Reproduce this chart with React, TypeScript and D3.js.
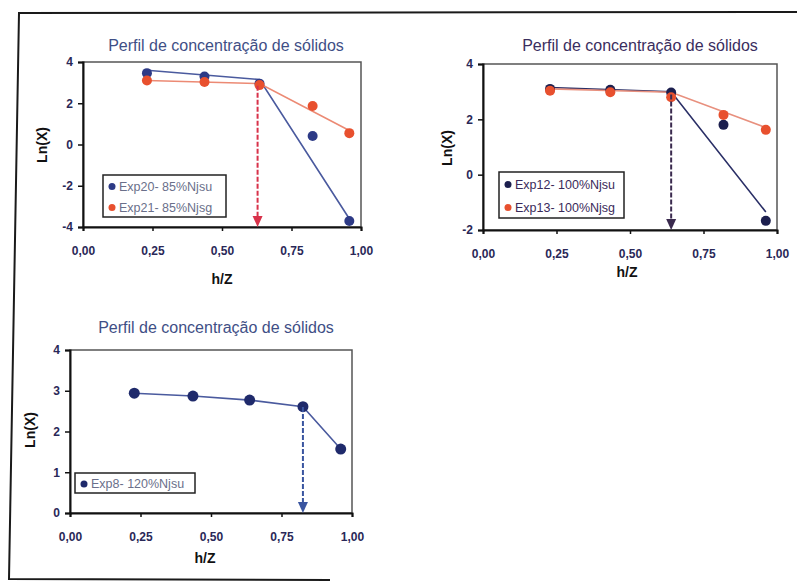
import React, { useEffect, useRef } from 'react';
import * as d3 from 'd3';

// values
const title = 'Perfil de concentração de sólidos';
const xTicks = [0, 0.25, 0.5, 0.75, 1];

// chart 1 - 85% Njs
const hz1 = [0.23, 0.437, 0.635, 0.826, 0.958];
const exp20 = [3.46, 3.3, 2.95, 0.41, -3.71];
const exp21 = [3.1, 3.03, 2.88, 1.87, 0.55];
const exp20Trend = [[0.23, 3.6], [0.635, 3.15], [0.958, -3.6]];
const exp21Trend = [[0.23, 3.1], [0.635, 2.95], [0.958, 0.68]];
const yTicks1 = [-4, -2, 0, 2, 4];

// chart 2 - 100% Njs
const hz2 = [0.228, 0.433, 0.64, 0.818, 0.962];
const exp12 = [3.1, 3.07, 2.97, 1.8, -1.67];
const exp13 = [3.03, 2.98, 2.8, 2.16, 1.62];
const exp12Trend = [[0.228, 3.15], [0.64, 3.0], [0.962, -1.35]];
const exp13Trend = [[0.228, 3.1], [0.64, 2.98], [0.962, 1.7]];
const yTicks2 = [-2, 0, 2, 4];

// chart 3 - 120% Njs
const hz3 = [0.228, 0.436, 0.637, 0.826, 0.96];
const exp8 = [2.94, 2.87, 2.77, 2.61, 1.57];
const yTicks3 = [0, 1, 2, 3, 4];

const fmt = (d) => d3.format('.2f')(d).replace('.', ',');
const fmtY = (d) => String(d); // plain hyphen minus like the original

const FONT = 'Liberation Sans, Arial, sans-serif';

const charts = [
  {
    box: { left: 83, right: 361, top: 62, bottom: 227 },
    yDomain: [-4, 4], yTicks: yTicks1,
    titleX: 226, titleY: 51,
    yLabel: { x: 47, y: 145 }, xLabel: { x: 222, y: 284 },
    series: [
      { name: 'Exp20- 85%Njsu', x: hz1, y: exp20, trend: exp20Trend, color: '#2d3a86', line: '#4a5a9e' },
      { name: 'Exp21- 85%Njsg', x: hz1, y: exp21, trend: exp21Trend, color: '#e8502e', line: '#ec8a74' },
    ],
    arrow: { x: 0.628, from: 2.85, to: -4, color: '#d8324a' },
    legend: { x: 103, y: 175, w: 123, h: 42 },
  },
  {
    box: { left: 483, right: 777, top: 64, bottom: 230 },
    yDomain: [-2, 4], yTicks: yTicks2,
    titleX: 640, titleY: 51,
    yLabel: { x: 452, y: 148 }, xLabel: { x: 627, y: 277 },
    series: [
      { name: 'Exp12- 100%Njsu', x: hz2, y: exp12, trend: exp12Trend, color: '#1c1f4e', line: '#2a2f66' },
      { name: 'Exp13- 100%Njsg', x: hz2, y: exp13, trend: exp13Trend, color: '#e8502e', line: '#e8907e' },
    ],
    arrow: { x: 0.64, from: 2.9, to: -2, color: '#3a2a4e' },
    legend: { x: 499, y: 172, w: 125, h: 46 },
  },
  {
    box: { left: 70, right: 352, top: 350, bottom: 513 },
    yDomain: [0, 4], yTicks: yTicks3,
    titleX: 216, titleY: 333,
    yLabel: { x: 35, y: 430 }, xLabel: { x: 205, y: 563 },
    series: [
      { name: 'Exp8- 120%Njsu', x: hz3, y: exp8, trend: hz3.map((h, i) => [h, exp8[i]]), color: '#1f2a6b', line: '#4a5a9e' },
    ],
    arrow: { x: 0.826, from: 2.6, to: 0, color: '#3a55a0' },
    legend: { x: 75, y: 473, w: 120, h: 20 },
  },
];

const App = () => {
  const svgRef = useRef();

  useEffect(() => {
    const svg = d3.select(svgRef.current);
    svg.selectAll('*').remove();
    svg.attr('width', 797).attr('height', 583);

    svg.append('rect').attr('width', 797).attr('height', 583).attr('fill', '#ffffff');

    // outer frame of the scanned page
    svg.append('path')
      .attr('d', 'M797,12 L19,13 L9,579 L330,580')
      .attr('fill', 'none')
      .attr('stroke', '#1a1a1a')
      .attr('stroke-width', 2);

    charts.forEach((c, ci) => {
      const g = svg.append('g');
      const x = d3.scaleLinear().domain([0, 1]).range([c.box.left, c.box.right]);
      const y = d3.scaleLinear().domain(c.yDomain).range([c.box.bottom, c.box.top]);

      // plot frame (grey top/right)
      g.append('rect')
        .attr('x', c.box.left).attr('y', c.box.top)
        .attr('width', c.box.right - c.box.left).attr('height', c.box.bottom - c.box.top)
        .attr('fill', 'none').attr('stroke', '#555').attr('stroke-width', 1.5);

      // axes
      const xAxis = g.append('g')
        .attr('transform', `translate(0,${c.box.bottom})`)
        .call(d3.axisBottom(x).tickValues(xTicks).tickSize(4).tickPadding(15).tickFormat(fmt));
      const yAxis = g.append('g')
        .attr('transform', `translate(${c.box.left},0)`)
        .call(d3.axisLeft(y).tickValues(c.yTicks).tickSize(5).tickPadding(5).tickFormat(fmtY));
      [xAxis, yAxis].forEach(a => {
        a.select('.domain').attr('stroke', '#111').attr('stroke-width', 2);
        a.selectAll('line').attr('stroke', '#111').attr('stroke-width', 1.5);
        a.selectAll('text')
          .style('font-family', FONT)
          .style('font-weight', 'bold')
          .style('font-size', '12px')
          .attr('fill', '#2a2858');
      });

      // title
      g.append('text')
        .attr('x', c.titleX).attr('y', c.titleY)
        .attr('text-anchor', 'middle')
        .style('font-family', FONT)
        .style('font-size', '16px')
        .attr('fill', ci === 1 ? '#3a2e5e' : '#3f4f86')
        .text(title);

      // axis titles
      g.append('text')
        .attr('transform', `translate(${c.yLabel.x},${c.yLabel.y}) rotate(-90)`)
        .attr('text-anchor', 'middle')
        .style('font-family', FONT)
        .style('font-weight', 'bold')
        .style('font-size', '14px')
        .attr('fill', '#111')
        .text('Ln(X)');
      g.append('text')
        .attr('x', c.xLabel.x).attr('y', c.xLabel.y)
        .attr('text-anchor', 'middle')
        .style('font-family', FONT)
        .style('font-weight', 'bold')
        .style('font-size', '14px')
        .attr('fill', '#111')
        .text('h/Z');

      // trend lines
      const line = d3.line().x(d => x(d[0])).y(d => y(d[1]));
      c.series.forEach(s => {
        g.append('path')
          .attr('d', line(s.trend))
          .attr('fill', 'none')
          .attr('stroke', s.line)
          .attr('stroke-width', 1.6);
      });

      // points
      c.series.forEach(s => {
        g.selectAll(null)
          .data(s.x.map((h, i) => [h, s.y[i]]))
          .enter().append('circle')
          .attr('cx', d => x(d[0]))
          .attr('cy', d => y(d[1]))
          .attr('r', ci === 2 ? 5.5 : 5)
          .attr('fill', s.color);
      });

      // dashed arrow
      const ax = x(c.arrow.x);
      const y0 = y(c.arrow.from);
      const y1 = y(c.arrow.to);
      g.append('line')
        .attr('x1', ax).attr('x2', ax)
        .attr('y1', y0).attr('y2', y1 - 8)
        .attr('stroke', c.arrow.color)
        .attr('stroke-width', 2)
        .attr('stroke-dasharray', '5,2');
      g.append('path')
        .attr('d', `M${ax - 5},${y1 - 11} L${ax + 5},${y1 - 11} L${ax},${y1} Z`)
        .attr('fill', c.arrow.color);

      // legend
      const lg = g.append('g').attr('transform', `translate(${c.legend.x},${c.legend.y})`);
      lg.append('rect')
        .attr('width', c.legend.w).attr('height', c.legend.h)
        .attr('fill', '#fff').attr('stroke', '#222').attr('stroke-width', 1.5);
      const step = c.series.length > 1 ? c.legend.h / 2 : c.legend.h;
      c.series.forEach((s, i) => {
        const cy = step * i + step / 2 + 1;
        lg.append('circle').attr('cx', 9).attr('cy', cy).attr('r', 3.5).attr('fill', s.color);
        lg.append('text')
          .attr('x', 16).attr('y', cy).attr('dy', '0.35em')
          .style('font-family', FONT)
          .style('font-size', '12.5px')
          .attr('fill', ci === 1 ? '#3a2a5a' : '#6a6f8a')
          .text(s.name);
      });
    });
  }, []);

  return (
    <div style={{ position: 'absolute', left: 0, top: 0 }}>
      <svg ref={svgRef} />
    </div>
  );
};

export default App;
